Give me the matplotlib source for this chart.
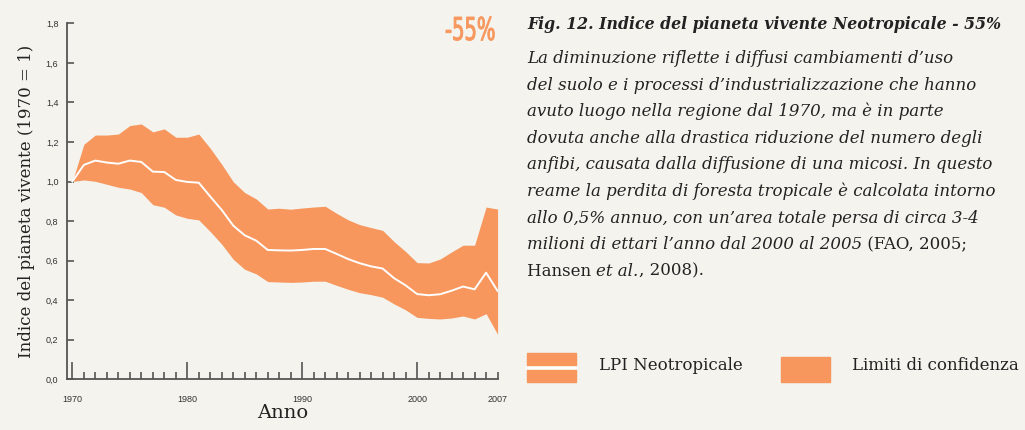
import matplotlib
matplotlib.use("Agg")
import matplotlib.pyplot as plt
from matplotlib.patches import Rectangle, PathPatch
from matplotlib.textpath import TextPath
from matplotlib.font_manager import FontProperties
from matplotlib.transforms import Affine2D

# dati (LPI Neotropicale, 1970 = 1)
anni = list(range(1970, 2008))
lpi = [1.0, 1.084, 1.106, 1.096, 1.09, 1.106, 1.099, 1.05, 1.048, 1.008,
       0.998, 0.994, 0.924, 0.856, 0.777, 0.728, 0.701, 0.654, 0.652, 0.651,
       0.654, 0.659, 0.659, 0.634, 0.608, 0.587, 0.571, 0.56, 0.511, 0.475,
       0.431, 0.425, 0.43, 0.448, 0.469, 0.455, 0.539, 0.447]
limite_sup = [1.0, 1.188, 1.235, 1.235, 1.24, 1.283, 1.291, 1.251, 1.266, 1.224,
              1.224, 1.24, 1.168, 1.087, 0.999, 0.944, 0.912, 0.861, 0.865, 0.86,
              0.866, 0.871, 0.875, 0.839, 0.806, 0.782, 0.767, 0.753, 0.696, 0.646,
              0.59, 0.588, 0.608, 0.644, 0.678, 0.678, 0.871, 0.861]
limite_inf = [1.0, 1.008, 1.001, 0.986, 0.971, 0.962, 0.944, 0.883, 0.87, 0.831,
              0.814, 0.806, 0.747, 0.683, 0.607, 0.556, 0.533, 0.494, 0.492, 0.49,
              0.492, 0.496, 0.496, 0.475, 0.455, 0.438, 0.428, 0.415, 0.381, 0.351,
              0.313, 0.308, 0.305, 0.31, 0.32, 0.305, 0.332, 0.228]

anni_etichetta = [1970, 1980, 1990, 2000]
y_ticks = [0.0, 0.2, 0.4, 0.6, 0.8, 1.0, 1.2, 1.4, 1.6, 1.8]
y_labels = ["0,0", "0,2", "0,4", "0,6", "0,8", "1,0", "1,2", "1,4", "1,6", "1,8"]

titolo = "Fig. 12. Indice del pianeta vivente Neotropicale - 55%"
# ogni riga: lista di (testo, stile)
righe = [
    [("La diminuzione riflette i diffusi cambiamenti d\u2019uso", "italic")],
    [("del suolo e i processi d\u2019industrializzazione che hanno", "italic")],
    [("avuto luogo nella regione dal 1970, ma \u00e8 in parte", "italic")],
    [("dovuta anche alla drastica riduzione del numero degli", "italic")],
    [("anfibi, causata dalla diffusione di una micosi. In questo", "italic")],
    [("reame la perdita di foresta tropicale \u00e8 calcolata intorno", "italic")],
    [("allo 0,5% annuo, con un\u2019area totale persa di circa 3-4", "italic")],
    [("milioni di ettari l\u2019anno dal 2000 al 2005", "italic"), (" (FAO, 2005;", "normal")],
    [("Hansen ", "normal"), ("et al.", "italic"), (", 2008).", "normal")],
]

ARANCIO = "#f7975e"
SFONDO = "#f4f3ed"
SCURO = "#222222"
GRIGIO = "#555555"

fig = plt.figure(figsize=(10.25, 4.3), dpi=100, facecolor=SFONDO)
ax = fig.add_axes([0.0651, 0.1179, 0.4209, 0.8279])
ax.set_facecolor(SFONDO)

ax.fill_between(anni, limite_inf, limite_sup, color=ARANCIO, linewidth=0)
ax.plot(anni, lpi, color="white", linewidth=1.4)

ax.set_xlim(1969.51, 2007.05)
ax.set_ylim(0, 1.8)

for s in ["top", "right"]:
    ax.spines[s].set_visible(False)
for s in ["left", "bottom"]:
    ax.spines[s].set_color(GRIGIO)
    ax.spines[s].set_linewidth(1.3)

ax.set_yticks(y_ticks, y_labels)
ax.tick_params(axis="y", direction="in", length=5, width=1.2, color=GRIGIO,
               labelsize=6.5, labelcolor="#333333", pad=6)
ax.set_xticks(anni_etichetta, [str(a) for a in anni_etichetta])
ax.set_xticks(anni, minor=True)
ax.tick_params(axis="x", which="major", direction="in", length=12, width=1.2,
               color=GRIGIO, labelsize=6.5, labelcolor="#333333", pad=11)
ax.tick_params(axis="x", which="minor", direction="in", length=5, width=1.2,
               color=GRIGIO)
for lab in ax.get_xticklabels() + ax.get_yticklabels():
    lab.set_family("Liberation Sans")

# etichetta 2007 sull'asse secondario
sec = ax.secondary_xaxis("bottom")
sec.set_xticks([2007], ["2007"])
sec.tick_params(length=0, labelsize=6.5, labelcolor="#333333", pad=11)
sec.spines["bottom"].set_visible(False)
for lab in sec.get_xticklabels():
    lab.set_family("Liberation Sans")

ax.set_ylabel("Indice del pianeta vivente (1970 = 1)", family="DejaVu Serif",
              fontsize=12, color=SCURO, labelpad=8)
ax.set_xlabel("Anno", family="DejaVu Serif", fontsize=14, color=SCURO,
              labelpad=0)

# "-55%" in carattere stretto (scala orizzontale del tracciato)
tp = TextPath((0, 0), "-55%", size=31.5, prop=FontProperties(family="DejaVu Sans"))
trasf = Affine2D().scale(0.62 / 100, 1 / 100).translate(4.45, 3.90) + fig.dpi_scale_trans
fig.patches.append(PathPatch(tp, transform=trasf, facecolor=ARANCIO,
                             edgecolor=ARANCIO, linewidth=0.7))

# testo a destra
W, H = 1025, 430
fig.text(527 / W, 1 - 29 / H, titolo, family="DejaVu Serif", style="italic",
         weight="bold", fontsize=11.35, color=SCURO, va="baseline")

renderer = fig.canvas.get_renderer()
y0 = 63
for i, riga in enumerate(righe):
    x = 527
    y = 1 - (y0 + i * 26.6) / H
    for testo, stile in riga:
        t = fig.text(x / W, y, testo, family="DejaVu Serif", style=stile,
                     fontsize=12, color=SCURO, va="baseline")
        bb = t.get_window_extent(renderer)
        x = bb.x1

# legenda
fig.patches.append(Rectangle((527 / W, 1 - 382 / H), 49 / W, 29 / H,
                             transform=fig.transFigure, color=ARANCIO))
fig.lines.append(plt.Line2D([527 / W, 576 / W], [1 - 367.5 / H, 1 - 367.5 / H],
                            transform=fig.transFigure, color="white",
                            linewidth=2.6))
fig.patches.append(Rectangle((781 / W, 1 - 382 / H), 49 / W, 25 / H,
                             transform=fig.transFigure, color=ARANCIO))
fig.text(599 / W, 1 - 366 / H, "LPI Neotropicale", family="DejaVu Serif",
         fontsize=12, color=SCURO, va="center")
fig.text(852 / W, 1 - 366 / H, "Limiti di confidenza", family="DejaVu Serif",
         fontsize=12, color=SCURO, va="center")

fig.savefig("out.png", dpi=100, facecolor=SFONDO)
